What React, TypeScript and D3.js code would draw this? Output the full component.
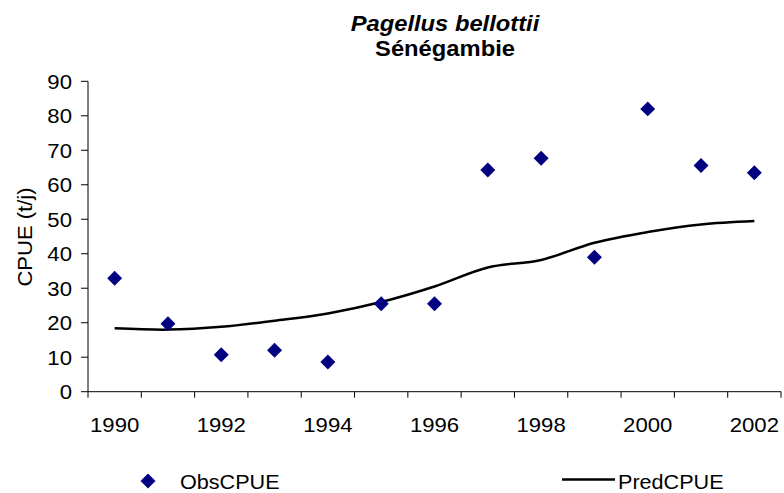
import React from "react";
import * as d3 from "d3";

const years = [1990, 1991, 1992, 1993, 1994, 1995, 1996, 1997, 1998, 1999, 2000, 2001, 2002];
const obsCPUE = [32.9, 19.7, 10.7, 12.0, 8.6, 25.5, 25.5, 64.3, 67.7, 39.0, 82.0, 65.6, 63.5];
const predCPUE = [18.4, 18.0, 18.8, 20.6, 22.7, 26.0, 30.5, 36.0, 38.2, 43.2, 46.3, 48.5, 49.5];
const yTicks = [0, 10, 20, 30, 40, 50, 60, 70, 80, 90];
const xLabelYears = [1990, 1992, 1994, 1996, 1998, 2000, 2002];

const W = 784;
const H = 493;
const FONT = "'Liberation Sans', Arial, sans-serif";
const SX = 1.08;

export default function App() {
  const x = d3.scaleBand<number>().domain(years).range([88, 781]).padding(0);
  const y = d3.scaleLinear().domain([0, 90]).range([391.7, 81.3]);
  const cx = (yr: number) => (x(yr) as number) + x.bandwidth() / 2;

  const line = d3
    .line<number>()
    .x((_, i) => cx(years[i]))
    .y((d) => y(d))
    .curve(d3.curveCatmullRom.alpha(0.5));

  const diamond = d3.symbol(d3.symbolSquare, 112)() as string;

  const boundaries = years.map((yr) => x(yr) as number).concat([781]);

  return (
    <svg
      width={W}
      height={H}
      style={{ position: "absolute", left: 0, top: 0, background: "#fff" }}
      fontFamily={FONT}
    >
      <rect x={0} y={0} width={W} height={H} fill="#fff" />
      {/* Title */}
      <text
        transform={`translate(445,30.5) scale(${SX},1)`}
        textAnchor="middle"
        fontSize={22}
        fontWeight="bold"
        fontStyle="italic"
      >
        Pagellus bellottii
      </text>
      <text
        transform={`translate(445,56) scale(${SX},1)`}
        textAnchor="middle"
        fontSize={22}
        fontWeight="bold"
      >
        Sénégambie
      </text>

      {/* Y axis */}
      <line x1={88} x2={88} y1={y(90)} y2={y(0)} stroke="#000" strokeWidth={1} />
      {yTicks.map((t) => (
        <g key={t}>
          <line x1={81} x2={88} y1={y(t)} y2={y(t)} stroke="#000" strokeWidth={1} />
          <text
            transform={`translate(72,${y(t)}) scale(${SX},1)`}
            textAnchor="end"
            dy="0.36em"
            fontSize={20.5}
          >
            {t}
          </text>
        </g>
      ))}
      <text
        transform={`translate(31.5,237) rotate(-90) scale(1.05,1)`}
        textAnchor="middle"
        fontSize={21}
      >
        CPUE (t/j)
      </text>

      {/* X axis */}
      <line x1={88} x2={781} y1={y(0)} y2={y(0)} stroke="#000" strokeWidth={1} />
      {boundaries.map((b, i) => (
        <line key={i} x1={b} x2={b} y1={y(0)} y2={y(0) + 6} stroke="#000" strokeWidth={1} />
      ))}
      {xLabelYears.map((yr) => (
        <text
          key={yr}
          transform={`translate(${cx(yr)},432.3) scale(${SX},1)`}
          textAnchor="middle"
          fontSize={20.5}
        >
          {yr}
        </text>
      ))}

      {/* Predicted line */}
      <path d={line(predCPUE) as string} fill="none" stroke="#000" strokeWidth={2.5} />

      {/* Observed points */}
      {obsCPUE.map((v, i) => (
        <path
          key={i}
          d={diamond}
          transform={`translate(${cx(years[i])},${y(v)}) rotate(45)`}
          fill="#000080"
        />
      ))}

      {/* Legend */}
      <path d={diamond} transform="translate(148,481) rotate(45)" fill="#000080" />
      <text transform={`translate(180,488.7) scale(${SX},1)`} fontSize={20}>
        ObsCPUE
      </text>
      <line x1={562} x2={615} y1={479.5} y2={479.5} stroke="#000" strokeWidth={2.5} />
      <text transform={`translate(618,488.7) scale(${SX},1)`} fontSize={20}>
        PredCPUE
      </text>
    </svg>
  );
}
